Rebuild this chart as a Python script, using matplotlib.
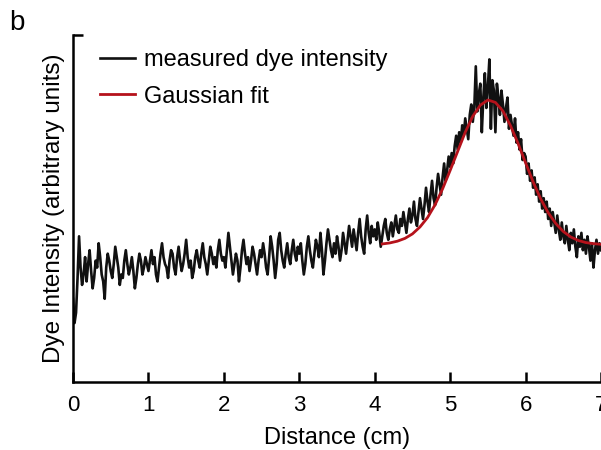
import numpy as np
import matplotlib
matplotlib.use("Agg")
import matplotlib.pyplot as plt

plt.rcParams['font.family'] = ['Liberation Sans', 'DejaVu Sans']

# measured dye intensity, sampled every 0.02 cm (arbitrary units, 0-100)
dye_0 = [24, 17, 20, 30, 42, 33, 28, 31, 36, 29, 34, 38, 32, 27, 30, 35, 33, 40, 36, 31,
         29, 24, 33, 37, 35, 32, 30, 34, 39, 36, 33, 28, 31, 30, 35, 38, 34, 31, 33, 36,
         32, 27, 30, 34, 37, 35, 31, 33, 36, 34]
dye_1 = [32, 35, 38, 34, 36, 31, 29, 33, 37, 40, 36, 34, 33, 30, 35, 38, 37, 33, 31, 36,
         39, 35, 32, 34, 37, 41, 36, 33, 35, 30, 32, 36, 38, 35, 33, 37, 40, 36, 34, 31,
         35, 39, 37, 34, 36, 33, 38, 41, 37, 35]
dye_2 = [36, 33, 38, 43, 39, 35, 31, 34, 37, 35, 29, 33, 38, 41, 37, 34, 36, 32, 35, 39,
         37, 34, 31, 35, 38, 36, 40, 37, 33, 31, 36, 42, 39, 35, 30, 34, 41, 43, 38, 35,
         33, 37, 40, 36, 34, 38, 41, 37, 35, 39]
dye_3 = [37, 40, 35, 31, 34, 39, 42, 38, 35, 33, 37, 41, 39, 36, 43, 38, 31, 35, 40, 44,
         41, 38, 36, 40, 37, 42, 39, 35, 38, 43, 40, 37, 41, 45, 42, 39, 44, 41, 38, 43,
         47, 42, 39, 37, 44, 48, 43, 40, 45, 42]
dye_4 = [44, 41, 46, 43, 39, 42, 45, 47, 43, 41, 44, 46, 42, 45, 48, 44, 43, 47, 45, 49,
         46, 43, 47, 50, 46, 48, 52, 47, 45, 49, 53, 50, 47, 51, 56, 52, 49, 54, 58, 53,
         51, 56, 60, 57, 54, 59, 63, 58, 61, 65]
dye_5 = [62, 66, 63, 68, 71, 67, 72, 69, 74, 71, 76, 73, 70, 77, 80, 75, 79, 91, 78, 83,
         86, 72, 82, 89, 79, 85, 93, 73, 87, 84, 72, 86, 82, 77, 84, 80, 75, 79, 82, 73,
         77, 74, 71, 76, 69, 72, 67, 70, 64, 66]
dye_6 = [65, 60, 63, 58, 61, 56, 59, 54, 57, 52, 55, 50, 53, 49, 52, 47, 50, 45, 49, 46,
         43, 48, 44, 41, 46, 42, 40, 45, 41, 38, 43, 40, 44, 39, 36, 42, 39, 43, 38, 41,
         37, 42, 39, 35, 40, 33, 38, 41, 37, 40, 38]
dye = dye_0 + dye_1 + dye_2 + dye_3 + dye_4 + dye_5 + dye_6
distance = np.linspace(0, 7, len(dye))

# gaussian fit, read every 0.1 cm from 4.1 to 7.0
fit_x = [4.1, 4.2, 4.3, 4.4, 4.5, 4.6, 4.7, 4.8, 4.9, 5.0, 5.1, 5.2, 5.3, 5.4, 5.5,
         5.6, 5.7, 5.8, 5.9, 6.0, 6.1, 6.2, 6.3, 6.4, 6.5, 6.6, 6.7, 6.8, 6.9, 7.0]
fit_y = [39.8, 40.1, 40.6, 41.4, 42.7, 44.7, 47.4, 51.1, 55.7, 61.0, 66.5, 72.0, 76.6, 79.8, 81.3,
         80.6, 78.1, 73.9, 68.8, 63.2, 57.7, 52.8, 48.8, 45.7, 43.4, 41.8, 40.8, 40.2, 39.9, 39.7]

fig = plt.figure(figsize=(6.01, 4.5), dpi=100)
ax = fig.add_axes([0.1215, 0.151, 0.8785, 0.771])

ax.plot(distance, dye, color='#111111', lw=1.9, label='measured dye intensity')
ax.plot(fit_x, fit_y, color='#b5121b', lw=2.0, label='Gaussian fit')

ax.set_xlim(0, 7)
ax.set_ylim(0, 100)
ax.set_xticks(range(8))
ax.set_yticks([100])
ax.set_yticklabels([])
ax.tick_params(direction='in', length=7, width=1.8, labelsize=16, pad=9)
for s in ['top', 'right']:
    ax.spines[s].set_visible(False)
for s in ['left', 'bottom']:
    ax.spines[s].set_linewidth(1.8)

ax.set_xlabel('Distance (cm)', fontsize=17, labelpad=8)
ax.set_ylabel('Dye Intensity (arbitrary units)', fontsize=17.5, labelpad=-3)

ax.legend(loc='upper left', bbox_to_anchor=(0.051, 0.96), frameon=False, fontsize=17,
          handlelength=1.5, handletextpad=0.35, labelspacing=0.62,
          borderaxespad=0, borderpad=0)

fig.text(0.028, 0.948, 'b', fontsize=20, ha='center', va='center')

fig.savefig('out.png')
